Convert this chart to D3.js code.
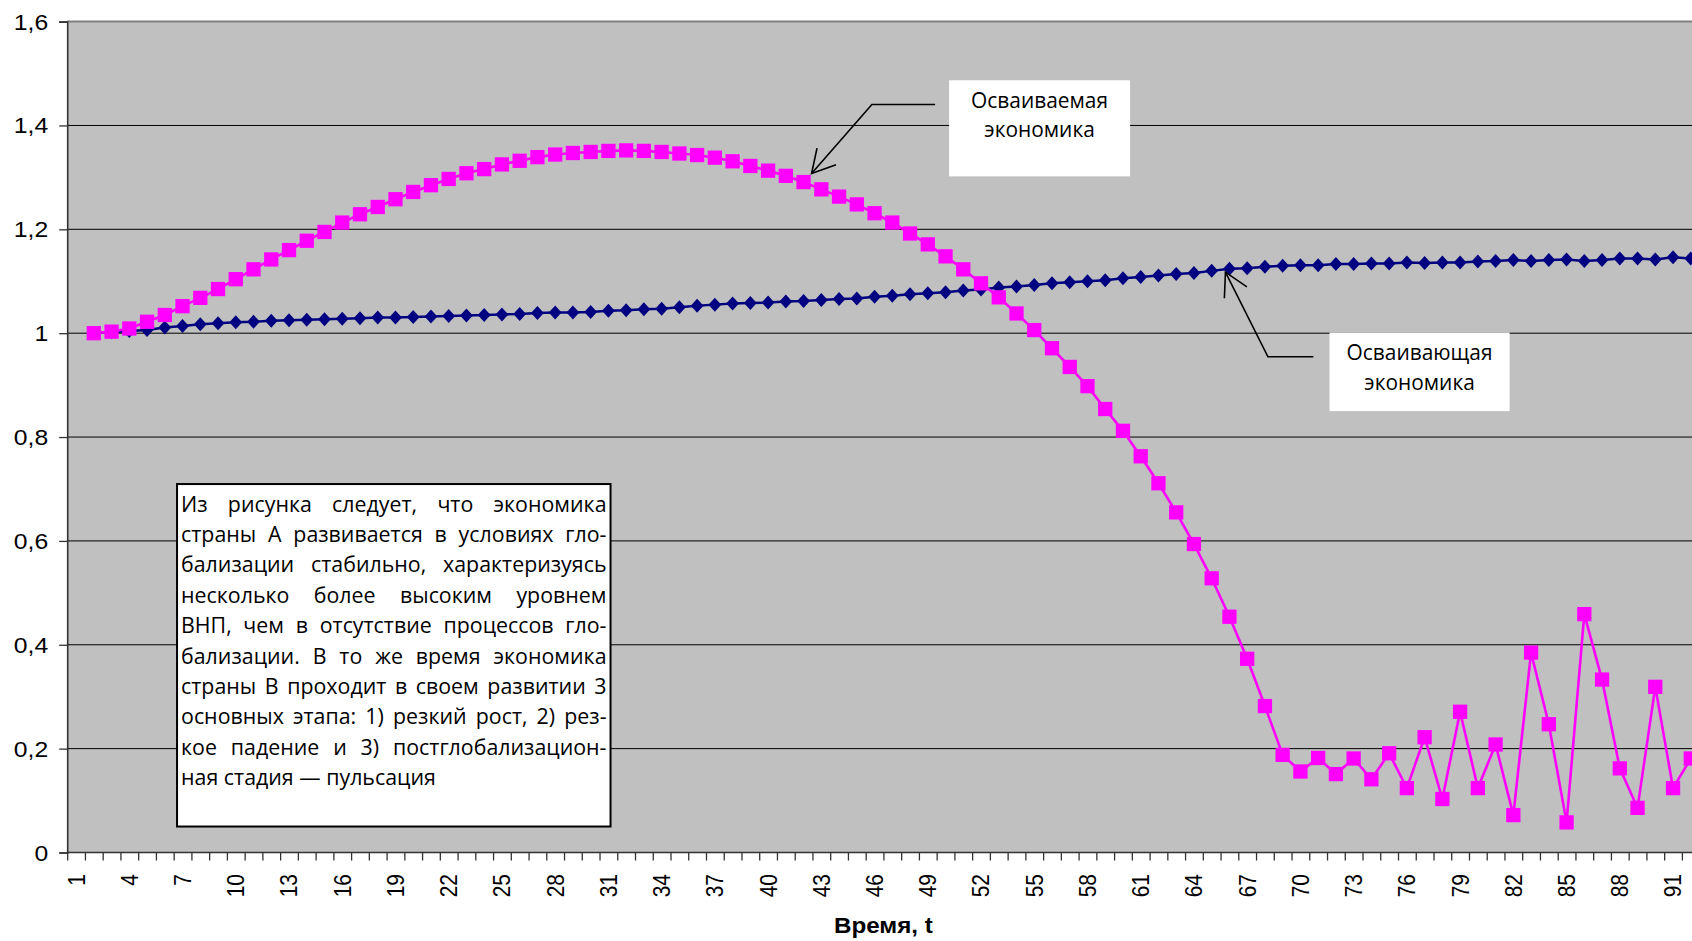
<!DOCTYPE html>
<html>
<head>
<meta charset="utf-8">
<script src="https://cdn.jsdelivr.net/npm/d3@7"></script>
<style>
  html, body { margin: 0; padding: 0; background: #fff; overflow: hidden; }
  svg { display: block; }
</style>
</head>
<body>
<svg id="chart" width="1692" height="941"></svg>
<script>
// ---- data -------------------------------------------------------------
// time steps t = 1 … 92 (category axis)
const times = d3.range(1, 93);
const xLabelStep = 3;
const yTicks = [0, 0.2, 0.4, 0.6, 0.8, 1.0, 1.2, 1.4, 1.6];

// "Осваивающая экономика" (country A), values per t, t = 1 has no value
const mastering = [
  null, 1.000, 1.002, 1.004, 1.006, 1.011, 1.014, 1.017, 1.019, 1.021,
  1.022, 1.024, 1.025, 1.026, 1.027, 1.028, 1.029, 1.030, 1.030, 1.031,
  1.032, 1.033, 1.034, 1.035, 1.036, 1.037, 1.039, 1.040, 1.040, 1.041,
  1.043, 1.044, 1.046, 1.047, 1.050, 1.053, 1.055, 1.057, 1.058, 1.059,
  1.061, 1.062, 1.064, 1.066, 1.067, 1.070, 1.072, 1.075, 1.077, 1.079,
  1.082, 1.084, 1.088, 1.090, 1.093, 1.096, 1.098, 1.100, 1.102, 1.106,
  1.108, 1.111, 1.114, 1.116, 1.120, 1.124, 1.125, 1.128, 1.130, 1.131,
  1.131, 1.133, 1.133, 1.134, 1.134, 1.136, 1.135, 1.136, 1.136, 1.138,
  1.139, 1.141, 1.139, 1.141, 1.142, 1.139, 1.141, 1.144, 1.144, 1.142,
  1.146, 1.144
];

// "Осваиваемая экономика" (country B), values per t, t = 1 has no value
const mastered = [
  null, 1.000, 1.003, 1.009, 1.022, 1.035, 1.052, 1.068, 1.085, 1.104,
  1.123, 1.142, 1.160, 1.178, 1.195, 1.213, 1.229, 1.243, 1.258, 1.272,
  1.285, 1.297, 1.308, 1.316, 1.325, 1.332, 1.339, 1.344, 1.347, 1.349,
  1.351, 1.352, 1.351, 1.349, 1.346, 1.343, 1.338, 1.331, 1.322, 1.313,
  1.303, 1.291, 1.277, 1.263, 1.248, 1.231, 1.213, 1.192, 1.171, 1.148,
  1.123, 1.096, 1.069, 1.038, 1.006, 0.971, 0.935, 0.898, 0.854, 0.812,
  0.763, 0.711, 0.655, 0.594, 0.528, 0.454, 0.373, 0.282, 0.188, 0.156,
  0.182, 0.151, 0.181, 0.141, 0.191, 0.124, 0.222, 0.103, 0.271, 0.124,
  0.208, 0.072, 0.385, 0.247, 0.058, 0.459, 0.333, 0.162, 0.086, 0.319,
  0.124, 0.181
];

const xTitle = "Время, t";
const masteredLabel = ["Осваиваемая", "экономика"];
const masteringLabel = ["Осваивающая", "экономика"];
const noteLines = [
  "Из рисунка следует, что экономика",
  "страны А развивается в условиях гло-",
  "бализации стабильно, характеризуясь",
  "несколько более высоким уровнем",
  "ВНП, чем в отсутствие процессов гло-",
  "бализации. В то же время экономика",
  "страны В проходит в своем развитии 3",
  "основных этапа: 1) резкий рост, 2) рез-",
  "кое падение и 3) постглобализацион-",
  "ная стадия — пульсация"
];

// ---- layout -----------------------------------------------------------
const svg = d3.select("#chart");
const W = 1692, H = 941;
const plotLeft = 67.2, plotTop = 21.6, plotBottom = 852.5;
const step = 17.744;
const plotRight = plotLeft + times.length * step;   // runs slightly past the page edge

const labelFont = "'Liberation Sans', Arial, sans-serif";
const noteFont = "'Open Sans', 'Noto Sans', sans-serif";
const stretch = 1.15;    // axis labels are drawn a little wide
const condense = 0.95;   // note text is drawn a little narrow

svg.append("rect").attr("width", W).attr("height", H).attr("fill", "#fff");

const x = d3.scaleBand().domain(times).range([plotLeft, plotRight]).padding(0);
const xc = d3.scaleLinear().domain([0.5, times.length + 0.5]).range([plotLeft, plotRight]);
const y = d3.scaleLinear().domain([0, 1.6]).range([plotBottom, plotTop]);
const cx = t => x(t) + x.bandwidth() / 2;

// plot area
svg.append("rect")
  .attr("x", plotLeft).attr("y", plotTop)
  .attr("width", plotRight - plotLeft).attr("height", plotBottom - plotTop)
  .attr("fill", "#c0c0c0");

// horizontal gridlines
svg.append("g").selectAll("line")
  .data(yTicks.filter(v => v > 0 && v < 1.6))
  .join("line")
  .attr("x1", plotLeft).attr("x2", plotRight)
  .attr("y1", d => y(d)).attr("y2", d => y(d))
  .attr("stroke", "#000").attr("stroke-width", 1);

// top border of plot area
svg.append("line")
  .attr("x1", plotLeft).attr("x2", plotRight)
  .attr("y1", y(1.6)).attr("y2", y(1.6))
  .attr("stroke", "#808080").attr("stroke-width", 2);

// ---- y axis -----------------------------------------------------------
const ruLocale = d3.formatLocale({ decimal: ",", thousands: " ", grouping: [3], currency: ["", " ₽"] });
const fmt = ruLocale.format("~g");

const yAxis = svg.append("g")
  .attr("transform", `translate(${plotLeft},0)`)
  .call(d3.axisLeft(y).tickValues(yTicks).tickSize(8).tickPadding(8).tickFormat(fmt));
yAxis.select(".domain").attr("stroke", "#333").attr("stroke-width", 1.6);
yAxis.selectAll(".tick line").attr("stroke", "#333").attr("stroke-width", 1.3);
yAxis.selectAll(".tick text")
  .attr("x", -19 / stretch)
  .attr("dy", "0.35em")
  .attr("transform", `scale(${stretch},1)`)
  .attr("fill", "#000")
  .style("font-family", labelFont)
  .style("font-size", "21.5px");

// ---- x axis -----------------------------------------------------------
// tick marks sit on the category boundaries
const xTickAxis = svg.append("g")
  .attr("transform", `translate(0,${plotBottom})`)
  .call(d3.axisBottom(xc).tickValues(d3.range(0.5, times.length + 1, 1)).tickSize(8).tickFormat(""));
xTickAxis.select(".domain").remove();
xTickAxis.selectAll(".tick line").attr("stroke", "#333").attr("stroke-width", 1.3);

svg.append("line")
  .attr("x1", plotLeft).attr("x2", plotRight)
  .attr("y1", plotBottom).attr("y2", plotBottom)
  .attr("stroke", "#333").attr("stroke-width", 1.6);

// category labels, every third one, rotated
const xLabelAxis = svg.append("g")
  .attr("transform", `translate(0,${plotBottom})`)
  .call(d3.axisBottom(x).tickValues(times.filter(t => (t - 1) % xLabelStep === 0)).tickSize(0));
xLabelAxis.select(".domain").remove();
xLabelAxis.selectAll(".tick text")
  .attr("x", 0).attr("y", 0).attr("dy", "0.35em")
  .attr("text-anchor", "end")
  .attr("transform", `translate(0,21.5) scale(${stretch},1) rotate(-90)`)
  .attr("fill", "#000")
  .style("font-family", labelFont)
  .style("font-size", "21px");

// axis title
svg.append("text")
  .attr("transform", `translate(${(plotLeft + plotRight) / 2},933) scale(1.1,1)`)
  .attr("text-anchor", "middle")
  .style("font-family", labelFont)
  .style("font-size", "22px")
  .style("font-weight", "bold")
  .text(xTitle);

// ---- series -----------------------------------------------------------
const toPoints = arr => times.map((t, i) => ({ t, v: arr[i] })).filter(d => d.v != null);
const line = d3.line().x(d => cx(d.t)).y(d => y(d.v));

const blueColor = "#000080", pinkColor = "#ff00ff";
const diamond = "M0,-7L6.4,0L0,7L-6.4,0Z";

const bluePts = toPoints(mastering);
svg.append("path").datum(bluePts)
  .attr("d", line).attr("fill", "none")
  .attr("stroke", blueColor).attr("stroke-width", 2.5);
svg.append("g").selectAll("path")
  .data(bluePts).join("path")
  .attr("d", diamond)
  .attr("transform", d => `translate(${cx(d.t)},${y(d.v)})`)
  .attr("fill", blueColor);

const pinkPts = toPoints(mastered);
svg.append("path").datum(pinkPts)
  .attr("d", line).attr("fill", "none")
  .attr("stroke", pinkColor).attr("stroke-width", 2.6);
svg.append("g").selectAll("path")
  .data(pinkPts).join("path")
  .attr("d", d3.symbol(d3.symbolSquare, 14.3 * 14.3))
  .attr("transform", d => `translate(${cx(d.t)},${y(d.v)})`)
  .attr("fill", pinkColor);

// ---- callouts ---------------------------------------------------------
// boxes and leader lines are placed in axis units (t, value)
const callouts = [
  {
    lines: masteredLabel,
    box: { t0: 50.2, t1: 60.4, v0: 1.487, v1: 1.302 },
    start: { t: 49.41, v: 1.4405 },
    elbow: { t: 45.85, v: 1.4405 },
    target: { t: 42, v: mastered[41], dx: 8, dy: -8.5 }
  },
  {
    lines: masteringLabel,
    box: { t0: 71.64, t1: 81.79, v0: 1.0012, v1: 0.85 },
    start: { t: 70.73, v: 0.9546 },
    elbow: { t: 68.17, v: 0.9546 },
    target: { t: 66, v: mastering[65], dx: -4, dy: 3.4 }
  }
];

callouts.forEach(c => {
  const bx = xc(c.box.t0), bw = xc(c.box.t1) - bx;
  const by = y(c.box.v0), bh = y(c.box.v1) - by;
  svg.append("rect").attr("x", bx).attr("y", by).attr("width", bw).attr("height", bh).attr("fill", "#fff");
  c.lines.forEach((s, i) => {
    svg.append("text")
      .attr("transform", `translate(${bx + bw / 2},${by + 27.5 + i * 29.5}) scale(${condense},1)`)
      .attr("text-anchor", "middle")
      .style("font-family", noteFont).style("font-size", "22px")
      .attr("fill", "#000")
      .text(s);
  });
  const p0 = [xc(c.start.t), y(c.start.v)];
  const p1 = [xc(c.elbow.t), y(c.elbow.v)];
  const tip = [cx(c.target.t) + c.target.dx, y(c.target.v) + c.target.dy];
  svg.append("path")
    .attr("d", d3.line()([p0, p1, tip]))
    .attr("fill", "none").attr("stroke", "#000").attr("stroke-width", 1.6);
  // open arrowhead
  const ang = Math.atan2(p1[1] - tip[1], p1[0] - tip[0]);
  const len = 26, spread = 29 * Math.PI / 180;
  const w1 = [tip[0] + len * Math.cos(ang - spread), tip[1] + len * Math.sin(ang - spread)];
  const w2 = [tip[0] + len * Math.cos(ang + spread), tip[1] + len * Math.sin(ang + spread)];
  svg.append("path")
    .attr("d", d3.line()([w1, tip, w2]))
    .attr("fill", "none").attr("stroke", "#000").attr("stroke-width", 1.6);
});

// ---- note box with justified text -------------------------------------
const note = { t0: 6.69, t1: 31.12, v0: 0.7095, v1: 0.05 };
const nx = xc(note.t0), nw = xc(note.t1) - nx;
const ny = y(note.v0), nh = y(note.v1) - ny;
svg.append("rect").attr("x", nx).attr("y", ny).attr("width", nw).attr("height", nh)
  .attr("fill", "#fff").attr("stroke", "#000").attr("stroke-width", 2);

const noteFs = 22.5, pad = 4, pitch = 30.4;
const textLeft = nx + pad, textWidth = (nw - 2 * pad) / condense;
const noteG = svg.append("g")
  .attr("transform", `translate(${textLeft},${ny + 27.5}) scale(${condense},1)`)
  .style("font-family", noteFont).style("font-size", noteFs + "px").attr("fill", "#000");
noteLines.forEach((ln, i) => {
  const words = ln.split(" ");
  const txt = noteG.append("text").attr("y", i * pitch);
  const spans = words.map(w => txt.append("tspan").text(w));
  const widths = spans.map(s => s.node().getComputedTextLength());
  const total = d3.sum(widths);
  const isLast = i === noteLines.length - 1;
  let gap = isLast ? noteFs * 0.26 : (textWidth - total) / (words.length - 1);
  if (gap < noteFs * 0.15) gap = noteFs * 0.15;
  let px = 0;
  spans.forEach((s, k) => { s.attr("x", px); px += widths[k] + gap; });
});
</script>
</body>
</html>
